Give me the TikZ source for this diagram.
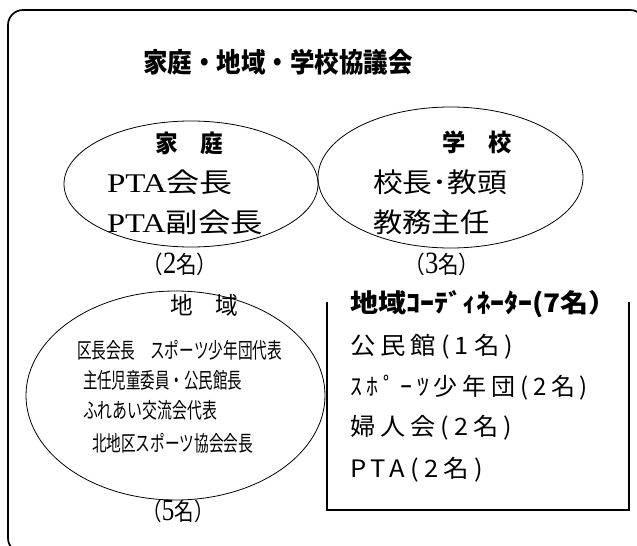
\documentclass[tikz,border=0pt]{standalone}
\usepackage{fontspec}
\usepackage{graphicx}
\newfontfamily\jp{Noto Sans CJK JP}
\newfontfamily\jpsp[LetterSpace=20]{Noto Sans CJK JP}
\newfontfamily\lser{Liberation Serif}
\newcommand\fitw[2]{\resizebox{#1}{\height}{#2}}
\newcommand\bigdig[1]{{\lser\fontsize{31}{31}\selectfont #1}}
\begin{document}
\begin{tikzpicture}[x=1pt,y=-1pt,
  txt/.style={inner sep=0pt, outer sep=0pt},
  ell/.style={draw, line width=0.8pt},
  frame/.style={line width=1.7pt}]
\useasboundingbox (0,0) rectangle (637,546);
% outer frame
\begin{scope}
\clip (0,0) rectangle (637,546);
\draw[frame, rounded corners=15pt] (8,10) rectangle (645,553);
\end{scope}
% ellipses
\draw[ell] (191,184) ellipse [x radius=127pt, y radius=63pt];
\draw[ell] (450.5,177.5) ellipse [x radius=132.5pt, y radius=70.5pt];
\draw[ell] (175.5,395.5) ellipse [x radius=149.5pt, y radius=104.5pt];
% coordinator box
\coordinate (ktl) at (327,302);
\coordinate (kbl) at (327,510);
\coordinate (kbr) at (629,510);
\coordinate (ktr) at (629,302);
\draw[frame] (ktl) -- (kbl) -- (kbr) -- (ktr);
% title
\node[txt] (title) at (278,62) {\jp\bfseries\fontsize{27}{32}\selectfont\fitw{270pt}{家庭・地域・学校協議会}};
% katei
\node[txt] (katei) at (189,143) {\jp\bfseries\fontsize{24}{28}\selectfont\fitw{68pt}{家　庭}};
\node[txt,anchor=west] (pta1) at (107,182) {\fontsize{27}{32}\selectfont\fitw{126pt}{\lser PTA\jp 会長}};
\node[txt,anchor=west] (pta2) at (107,222) {\fontsize{27}{32}\selectfont\fitw{156pt}{\lser PTA\jp 副会長}};
\node[txt] (n2) at (180,264) {\fontsize{24}{28}\selectfont\fitw{75pt}{\jp （\bigdig{2}\jp 名）}};
% gakko
\node[txt] (gakko) at (477,142) {\jp\bfseries\fontsize{24}{28}\selectfont\fitw{70pt}{学　校}};
\node[txt,anchor=west] (s1) at (373,182) {\jp\fontsize{27}{32}\selectfont\fitw{134pt}{校長･教頭}};
\node[txt,anchor=west] (s2) at (373,222) {\jp\fontsize{27}{32}\selectfont\fitw{117pt}{教務主任}};
\node[txt] (n3) at (442,264) {\fontsize{24}{28}\selectfont\fitw{75pt}{\jp （\bigdig{3}\jp 名）}};
% chiiki
\node[txt] (chiiki) at (204,305) {\jp\fontsize{24}{28}\selectfont\fitw{68pt}{地　域}};
\node[txt,anchor=west] (c1) at (77,350) {\jp\fontsize{21.5}{26}\selectfont\fitw{205pt}{区長会長　スポーツ少年団代表}};
\node[txt,anchor=west] (c2) at (83,380) {\jp\fontsize{21.5}{26}\selectfont\fitw{159pt}{主任児童委員・公民館長}};
\node[txt,anchor=west] (c3) at (83,410) {\jp\fontsize{21.5}{26}\selectfont\fitw{134pt}{ふれあい交流会代表}};
\node[txt,anchor=west] (c4) at (92,443) {\jp\fontsize{21.5}{26}\selectfont\fitw{161pt}{北地区スポーツ協会会長}};
\node[txt] (n5) at (178,511) {\fontsize{24}{28}\selectfont\fitw{71pt}{\jp （\bigdig{5}\jp 名）}};
% coordinators
\node[txt,anchor=west] (kh) at (350,304) {\jp\bfseries\fontsize{25.5}{30}\selectfont\fitw{267pt}{地域ｺｰﾃﾞｨﾈｰﾀｰ(7名）}};
\node[txt,anchor=west] (k1) at (350,347) {\jpsp\fontsize{24}{28}\selectfont\fitw{163pt}{公民館(1名)}};
\node[txt,anchor=west] (k2) at (350,388) {\jpsp\fontsize{24}{28}\selectfont\fitw{238pt}{ｽﾎﾟｰﾂ少年団(2名)}};
\node[txt,anchor=west] (k3) at (350,428) {\jpsp\fontsize{24}{28}\selectfont\fitw{162pt}{婦人会(2名)}};
\node[txt,anchor=west] (k4) at (350,470) {\jpsp\fontsize{24}{28}\selectfont\fitw{133pt}{PTA(2名)}};
\end{tikzpicture}
\end{document}
